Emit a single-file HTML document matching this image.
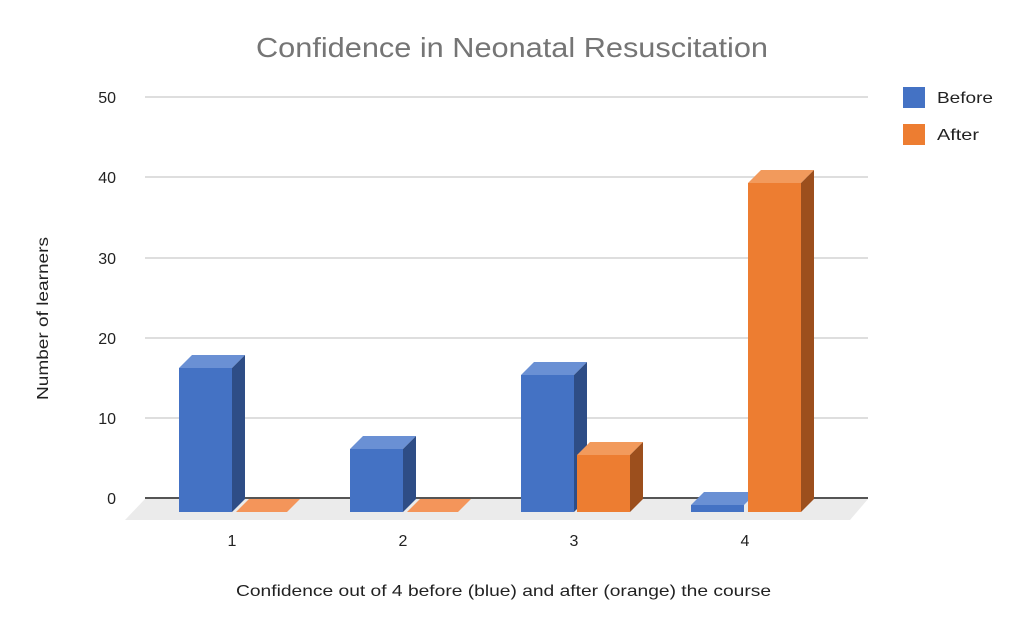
<!DOCTYPE html>
<html><head><meta charset="utf-8"><style>body{margin:0;background:#fff}</style></head><body>
<svg width="1024" height="633" viewBox="0 0 1024 633" xmlns="http://www.w3.org/2000/svg" font-family="Liberation Sans, sans-serif">
<rect width="1024" height="633" fill="#fff"/>
<text x="256" y="57" textLength="512" lengthAdjust="spacingAndGlyphs" font-size="28" fill="#757575">Confidence in Neonatal Resuscitation</text>
<g stroke="#d4d4d4" stroke-width="1.5">
<line x1="145" y1="97" x2="868" y2="97"/><line x1="145" y1="177" x2="868" y2="177"/>
<line x1="145" y1="258" x2="868" y2="258"/><line x1="145" y1="338" x2="868" y2="338"/>
<line x1="145" y1="418" x2="868" y2="418"/>
</g>
<polygon points="145,499 868,499 850,520 125,520" fill="#ebebeb"/>
<line x1="145" y1="498" x2="868" y2="498" stroke="#555" stroke-width="2"/>
<g font-size="16" fill="#222" text-anchor="end">
<text x="116" y="103">50</text><text x="116" y="183">40</text><text x="116" y="264">30</text>
<text x="116" y="344">20</text><text x="116" y="424">10</text><text x="116" y="504">0</text>
</g>
<text transform="translate(48,400) rotate(-90)" textLength="163" lengthAdjust="spacingAndGlyphs" font-size="16" fill="#222">Number of learners</text>
<g font-size="16" fill="#222" text-anchor="middle">
<text x="232" y="546">1</text><text x="403" y="546">2</text><text x="574" y="546">3</text><text x="745" y="546">4</text>
</g>
<text x="236" y="596" textLength="535" lengthAdjust="spacingAndGlyphs" font-size="16" fill="#222">Confidence out of 4 before (blue) and after (orange) the course</text>
<g>
<rect x="179" y="368" width="53" height="144" fill="#4472c4"/>
<polygon points="179,368 192,355 245,355 232,368" fill="#6a90d4"/>
<polygon points="232,368 245,355 245,499 232,512" fill="#2e4d86"/>
<polygon points="236,512 249,499 300,499 287,512" fill="#f4955a"/>
<rect x="350" y="449" width="53" height="63" fill="#4472c4"/>
<polygon points="350,449 363,436 416,436 403,449" fill="#6a90d4"/>
<polygon points="403,449 416,436 416,499 403,512" fill="#2e4d86"/>
<polygon points="407,512 420,499 471,499 458,512" fill="#f4955a"/>
<rect x="521" y="375" width="53" height="137" fill="#4472c4"/>
<polygon points="521,375 534,362 587,362 574,375" fill="#6a90d4"/>
<polygon points="574,375 587,362 587,499 574,512" fill="#2e4d86"/>
<rect x="577" y="455" width="53" height="57" fill="#ed7d31"/>
<polygon points="577,455 590,442 643,442 630,455" fill="#f29a5c"/>
<polygon points="630,455 643,442 643,499 630,512" fill="#9c4f1d"/>
<rect x="691" y="505" width="53" height="7" fill="#4472c4"/>
<polygon points="691,505 704,492 757,492 744,505" fill="#6a90d4"/>
<rect x="748" y="183" width="53" height="329" fill="#ed7d31"/>
<polygon points="748,183 761,170 814,170 801,183" fill="#f29a5c"/>
<polygon points="801,183 814,170 814,499 801,512" fill="#9c4f1d"/>
</g>
<rect x="903" y="87" width="22" height="21" fill="#4472c4"/>
<text x="937" y="103" textLength="56" lengthAdjust="spacingAndGlyphs" font-size="16" fill="#222">Before</text>
<rect x="903" y="124" width="22" height="21" fill="#ed7d31"/>
<text x="937" y="140" textLength="42" lengthAdjust="spacingAndGlyphs" font-size="16" fill="#222">After</text>
</svg>
</body></html>
